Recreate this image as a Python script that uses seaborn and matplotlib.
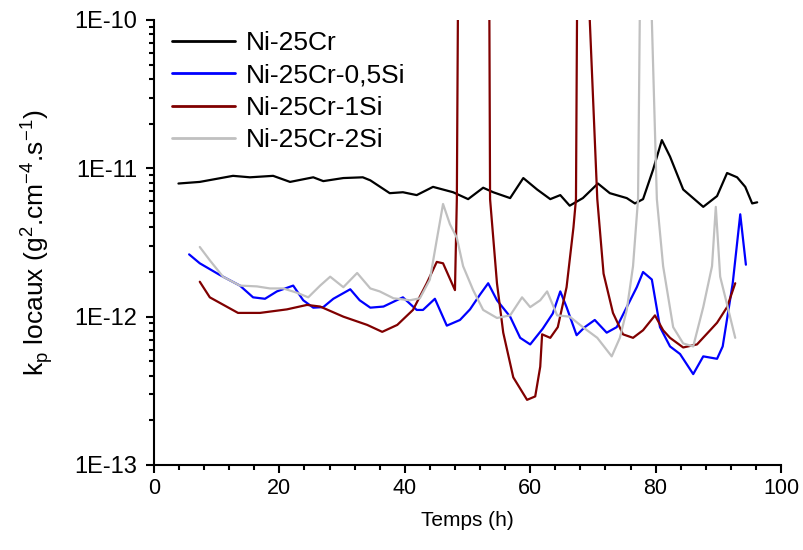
import numpy as np
import pandas as pd
import seaborn as sns
import matplotlib
matplotlib.use('Agg')
import matplotlib.pyplot as plt
from matplotlib.ticker import MultipleLocator, LogLocator, FixedLocator, FuncFormatter, NullFormatter

# data (time in h, local kp in g2.cm-4.s-1)
t_ni25cr = [3.9, 7.3, 12.6, 15.3, 19.0, 21.7, 25.4, 27.0, 30.2, 33.3, 34.5, 37.6, 39.7, 41.9,
            44.5, 47.7, 50.1, 52.5, 54.1, 56.8, 58.9, 61.1, 63.2, 64.8, 66.3, 68.4, 70.8, 72.7,
            75.4, 76.7, 78.0, 79.6, 81.0, 82.3, 84.4, 87.6, 89.8, 91.4, 93.0, 94.3, 95.4, 96.2]
kp_ni25cr = [7.9e-12, 8.1e-12, 8.9e-12, 8.7e-12, 8.9e-12, 8.1e-12, 8.7e-12, 8.2e-12, 8.6e-12,
             8.7e-12, 8.3e-12, 6.8e-12, 6.9e-12, 6.6e-12, 7.5e-12, 6.9e-12, 6.2e-12, 7.4e-12,
             6.9e-12, 6.3e-12, 8.6e-12, 7.2e-12, 6.2e-12, 6.6e-12, 5.6e-12, 6.3e-12, 7.9e-12,
             6.8e-12, 6.3e-12, 5.8e-12, 6.2e-12, 9.8e-12, 1.55e-11, 1.2e-11, 7.2e-12, 5.5e-12,
             6.5e-12, 9.3e-12, 8.7e-12, 7.5e-12, 5.8e-12, 5.9e-12]

t_05si = [5.6, 7.3, 10.5, 13.7, 15.8, 17.7, 19.6, 22.2, 23.8, 25.4, 27.0, 28.6, 31.3, 32.8,
          34.5, 36.6, 38.7, 39.7, 41.9, 42.9, 44.8, 46.7, 48.8, 50.4, 52.0, 53.3, 54.7, 56.8,
          58.4, 60.0, 62.0, 63.6, 64.8, 65.8, 67.4, 68.7, 70.3, 72.2, 73.8, 75.4, 77.0, 78.0,
          79.4, 80.7, 82.3, 83.9, 86.0, 87.6, 89.8, 90.7, 92.3, 93.5, 94.4]
kp_05si = [2.63e-12, 2.29e-12, 1.91e-12, 1.62e-12, 1.35e-12, 1.32e-12, 1.48e-12, 1.62e-12,
           1.29e-12, 1.15e-12, 1.16e-12, 1.32e-12, 1.53e-12, 1.29e-12, 1.15e-12, 1.17e-12,
           1.29e-12, 1.35e-12, 1.11e-12, 1.11e-12, 1.32e-12, 8.7e-13, 9.5e-13, 1.12e-12,
           1.41e-12, 1.68e-12, 1.29e-12, 1.0e-12, 7.2e-13, 6.5e-13, 8.3e-13, 1.05e-12,
           1.48e-12, 1.16e-12, 7.5e-13, 8.5e-13, 9.5e-13, 7.8e-13, 8.5e-13, 1.16e-12,
           1.58e-12, 2.0e-12, 1.78e-12, 8.5e-13, 6.3e-13, 5.6e-13, 4.1e-13, 5.4e-13,
           5.2e-13, 6.3e-13, 1.68e-12, 4.9e-12, 2.24e-12]

t_1si = [7.3, 8.9, 13.4, 16.9, 21.2, 24.4, 26.5, 30.2, 34.0, 36.4, 38.8, 41.3, 43.5, 45.1,
         46.1, 48.0, 48.3, 48.6, 53.4, 53.6, 54.7, 55.7, 57.3, 59.5, 60.8, 61.6, 61.9, 63.2,
         64.4, 65.8, 66.9, 67.3, 67.6, 69.45, 69.5, 70.7, 71.7, 73.2, 74.8, 76.4, 78.0, 79.9,
         81.2, 82.3, 84.4, 86.6, 88.7, 89.8, 91.4, 92.7]
kp_1si = [1.72e-12, 1.35e-12, 1.06e-12, 1.06e-12, 1.12e-12, 1.2e-12, 1.17e-12, 1.0e-12,
          8.8e-13, 7.9e-13, 8.8e-13, 1.11e-12, 1.68e-12, 2.34e-12, 2.29e-12, 1.51e-12,
          6.2e-12, 1e-9, 1e-9, 6.2e-12, 1.68e-12, 7.8e-13, 3.9e-13, 2.75e-13, 2.9e-13,
          4.6e-13, 7.6e-13, 7.2e-13, 8.5e-13, 1.58e-12, 4.0e-12, 6.2e-12, 1e-9, 1e-9, 1e-10,
          6.2e-12, 1.95e-12, 1.06e-12, 7.6e-13, 7.2e-13, 8.1e-13, 1.02e-12, 8.1e-13, 7.2e-13,
          6.2e-13, 6.5e-13, 8.1e-13, 9.1e-13, 1.16e-12, 1.68e-12]

t_2si = [7.3, 8.9, 11.0, 13.7, 16.4, 18.5, 20.6, 22.8, 24.6, 26.5, 28.1, 30.2, 32.4, 34.5,
         36.0, 38.2, 40.8, 42.4, 44.0, 45.1, 46.1, 47.2, 48.3, 49.3, 50.9, 52.5, 54.7, 56.8,
         58.7, 60.0, 61.6, 62.7, 64.3, 66.3, 68.4, 70.7, 73.0, 74.3, 75.4, 76.4, 77.2, 77.7,
         79.3, 79.4, 80.2, 81.2, 82.8, 84.4, 86.0, 87.6, 89.0, 89.6, 90.3, 91.5, 92.7]
kp_2si = [2.95e-12, 2.4e-12, 1.86e-12, 1.62e-12, 1.6e-12, 1.55e-12, 1.55e-12, 1.45e-12,
          1.35e-12, 1.62e-12, 1.86e-12, 1.58e-12, 1.97e-12, 1.55e-12, 1.48e-12, 1.33e-12,
          1.29e-12, 1.33e-12, 1.78e-12, 3.3e-12, 5.75e-12, 4.2e-12, 3.4e-12, 2.19e-12,
          1.51e-12, 1.11e-12, 9.8e-13, 1.02e-12, 1.35e-12, 1.16e-12, 1.29e-12, 1.48e-12,
          1.02e-12, 1.0e-12, 8.5e-13, 7.2e-13, 5.4e-13, 7.2e-13, 1.11e-12, 2.19e-12,
          6.2e-12, 1e-9, 1e-9, 1e-10, 6.2e-12, 2.19e-12, 8.5e-13, 6.6e-13, 6.3e-13,
          1.16e-12, 2.19e-12, 5.5e-12, 1.86e-12, 1.16e-12, 7.2e-13]

labels = ['Ni-25Cr', 'Ni-25Cr-0,5Si', 'Ni-25Cr-1Si', 'Ni-25Cr-2Si']
colors = ['#000000', '#0000FF', '#800000', '#C0C0C0']

frames = []
for lab, t, kp in zip(labels, [t_ni25cr, t_05si, t_1si, t_2si],
                      [kp_ni25cr, kp_05si, kp_1si, kp_2si]):
    frames.append(pd.DataFrame({'Temps': t, 'kp': kp, 'alliage': lab}))
df = pd.concat(frames, ignore_index=True)

sns.set_theme(style='ticks')
plt.rcParams['font.family'] = ['Liberation Sans', 'DejaVu Sans']
plt.rcParams['mathtext.fontset'] = 'custom'
plt.rcParams['mathtext.rm'] = 'Liberation Sans'
plt.rcParams['text.color'] = 'black'
plt.rcParams['axes.labelcolor'] = 'black'
plt.rcParams['xtick.color'] = 'black'
plt.rcParams['ytick.color'] = 'black'

fig = plt.figure(figsize=(8.04, 5.5), dpi=100)
ax = fig.add_axes([154 / 804, 1 - 465 / 550, 627 / 804, 445 / 550])

sns.lineplot(data=df, x='Temps', y='kp', hue='alliage', hue_order=labels,
             palette=dict(zip(labels, colors)), estimator=None, sort=False,
             linewidth=1.6, ax=ax)

ax.set_yscale('log')
ax.set_xlim(0, 100)
ax.set_ylim(1e-13, 1e-10)

ax.xaxis.set_major_locator(MultipleLocator(20))
ax.xaxis.set_minor_locator(MultipleLocator(4))
ax.yaxis.set_major_locator(FixedLocator([1e-13, 1e-12, 1e-11, 1e-10]))
ax.yaxis.set_minor_locator(LogLocator(base=10, subs=np.arange(2, 10)))
ax.yaxis.set_minor_formatter(NullFormatter())
ax.yaxis.set_major_formatter(FuncFormatter(lambda v, p: '1E%d' % round(np.log10(v))))

for s in ['top', 'right']:
    ax.spines[s].set_visible(False)
for s in ['left', 'bottom']:
    ax.spines[s].set_linewidth(1.5)
    ax.spines[s].set_color('black')

ax.tick_params(axis='both', which='major', direction='out', length=6, width=1.5, color='black')
ax.tick_params(axis='both', which='minor', direction='out', length=3.5, width=1.5, color='black')
ax.tick_params(axis='x', labelsize=15.5, pad=3)
ax.tick_params(axis='y', labelsize=17, pad=6)

ax.set_xlabel('Temps (h)', fontsize=15, labelpad=9)
ax.set_ylabel(r'k$_\mathregular{p}$ locaux (g$^\mathregular{2}$.cm$^\mathregular{-4}$.s$^\mathregular{-1}$)',
              fontsize=19, labelpad=14)

ax.legend(frameon=False, loc='upper left', bbox_to_anchor=(0.028, 0.975), fontsize=19,
          handlelength=2.4, handletextpad=0.4, labelspacing=0.32, borderpad=0, borderaxespad=0)
for line in ax.get_legend().get_lines():
    line.set_linewidth(2)

fig.savefig('out.png', dpi=100)
